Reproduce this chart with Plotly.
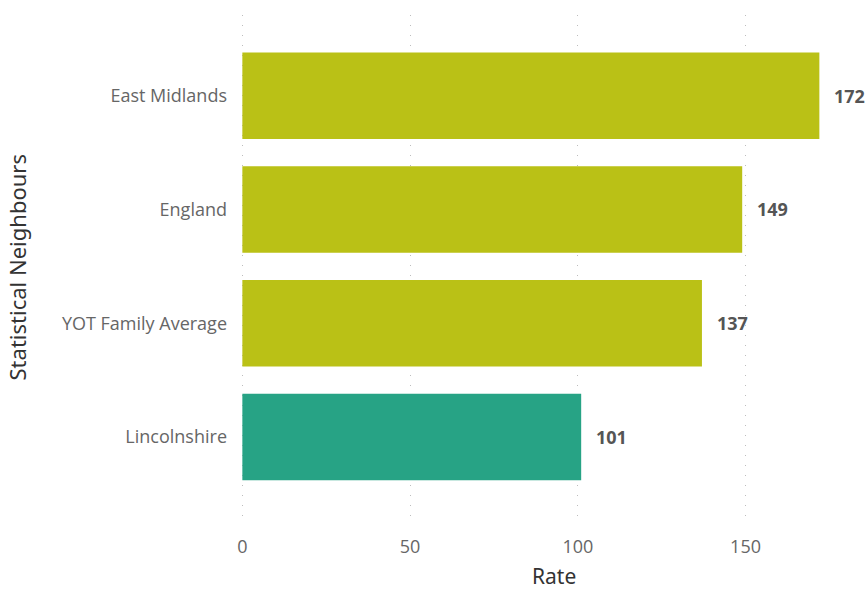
import plotly.graph_objects as go

categories = ["Lincolnshire", "YOT Family Average", "England", "East Midlands"]
values = [101, 137, 149, 172]
colors = ["#27A385", "#BAC116", "#BAC116", "#BAC116"]
x_ticks = [0, 50, 100, 150]

fig = go.Figure()
fig.add_trace(go.Bar(
    x=values, y=categories, orientation="h",
    marker=dict(color=colors, line=dict(width=0)),
    hoverinfo="skip",
))

annotations = []
for c, v in zip(categories, values):
    annotations.append(dict(
        x=v, y=c, xref="x", yref="y", text=f"<b>{v}</b>", showarrow=False,
        xanchor="left", yanchor="middle", xshift=13,
        font=dict(family="Open Sans, Noto Sans", size=18, color="#555555"),
    ))
annotations.append(dict(
    x=0.5, y=0, xref="paper", yref="paper", text="Rate", showarrow=False,
    xanchor="center", yanchor="middle", yshift=-56,
    font=dict(family="Noto Sans, DejaVu Sans", size=21, color="#333333"),
))
annotations.append(dict(
    x=-0.353, y=0.5, xref="paper", yref="paper", text="Statistical Neighbours",
    showarrow=False, textangle=-90, xanchor="center", yanchor="middle",
    font=dict(family="Noto Sans, DejaVu Sans", size=22, color="#333333"),
))

fig.update_layout(
    width=868, height=590,
    margin=dict(l=239, r=0, t=15, b=70),
    paper_bgcolor="white", plot_bgcolor="white",
    bargap=0.24, showlegend=False,
    annotations=annotations,
    xaxis=dict(
        range=[-1, 186.5], tickvals=x_ticks, showgrid=True,
        gridcolor="#BDBDBD", griddash="1px,9px", gridwidth=1,
        zeroline=False, showline=False, ticks="",
        ticklabelstandoff=14,
        tickfont=dict(family="Open Sans, Noto Sans", size=18, color="#666666"),
    ),
    yaxis=dict(
        range=[-0.73, 3.71], showgrid=False, zeroline=False, showline=False,
        ticks="", ticklabelstandoff=11,
        tickfont=dict(family="Open Sans, Noto Sans", size=18, color="#666666"),
    ),
)

fig.write_html(
    "out.html",
    config={"displayModeBar": False},
    post_script="document.body.style.margin='0';document.body.style.overflow='hidden';",
)
